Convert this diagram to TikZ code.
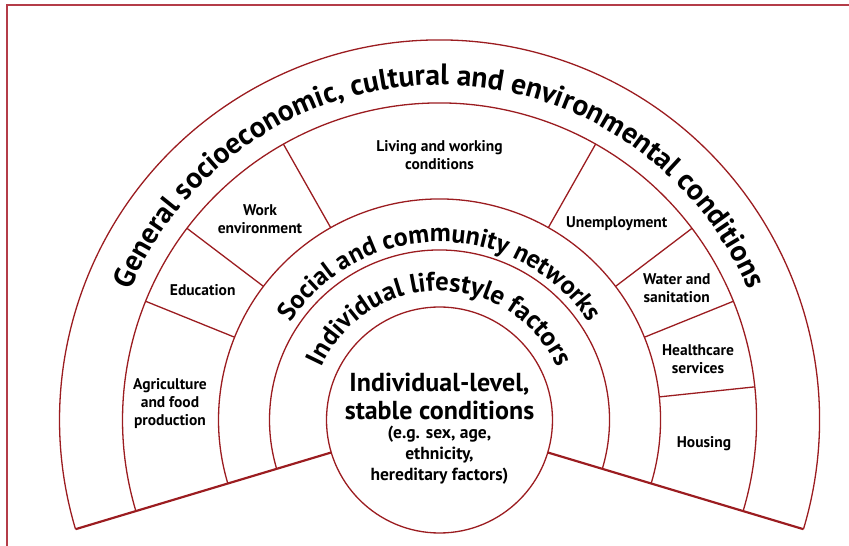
\documentclass[tikz,border=0pt]{standalone}
\usepackage{fontspec}
\setmainfont{PT Sans}
\usetikzlibrary{decorations.text}
\definecolor{ringred}{RGB}{155,28,32}
\definecolor{framered}{RGB}{180,60,72}

\begin{document}
\begin{tikzpicture}[x=1pt,y=1pt,
   ring/.style={draw=ringred,line width=1.3pt},
   rim/.style={draw=ringred,line width=2.2pt},
   lab/.style={font=\bfseries\fontsize{15.5}{18}\selectfont,align=center},
   arctext/.style={decorate,decoration={text along path,text align=center,text={#1}}}]
   \useasboundingbox (-439.5,-126) rectangle (409.5,420);
   \draw[framered,line width=1.5pt] (-432.5,-126) -- (-432.5,415) -- (409.5,415);

   \foreach \r in {380,317,221,170}
      \draw[ring] (-16.7:\r) arc[start angle=-16.7,end angle=196.7,radius=\r];
   \foreach \a in {158,142.8,119.5,60.5,37.2,22,6}
      \draw[ring] (\a:221) -- (\a:317);
   \draw[rim] (196.7:380) -- (196.7:112) (-16.7:380) -- (-16.7:112);

   \node[ring,circle,fill=white,minimum size=226pt,inner sep=0pt] (core) at (0,0) {};
   \node[align=center,font=\bfseries\fontsize{26}{28}\selectfont] (coretitle) at (0,24)
      {Individual-level,\\stable conditions};
   \node[align=center,font=\bfseries\fontsize{17.5}{21}\selectfont] (corenote) at (0,-35)
      {(e.g. sex, age,\\ethnicity,\\hereditary factors)};

   \path[arctext={|\fontsize{29.5}{32}\selectfont\bfseries|General socioeconomic, cultural and environmental conditions}]
      (175:335) arc[start angle=175,end angle=5,radius=335];
   \path[arctext={|\fontsize{26}{30}\selectfont\bfseries|Social and community networks}]
      (175:178) arc[start angle=175,end angle=5,radius=178];
   \path[arctext={|\fontsize{26.7}{30}\selectfont\bfseries|Individual lifestyle factors}]
      (175:129) arc[start angle=175,end angle=5,radius=129];

   \node[lab] (living)  at (0,265)        {Living and working\\conditions};
   \node[lab] (work)    at (-179.5,201)   {Work\\environment};
   \node[lab] (educ)    at (-236.8,130)   {Education};
   \node[lab] (agri)    at (-269.5,16)    {Agriculture\\and food\\production};
   \node[lab] (unemp)   at (177.2,196.7)  {Unemployment};
   \node[lab] (water)   at (237.2,132)    {Water and\\sanitation};
   \node[lab] (health)  at (258.5,61)     {Healthcare\\services};
   \node[lab] (housing) at (264.5,-23.3)  {Housing};
\end{tikzpicture}
\end{document}
